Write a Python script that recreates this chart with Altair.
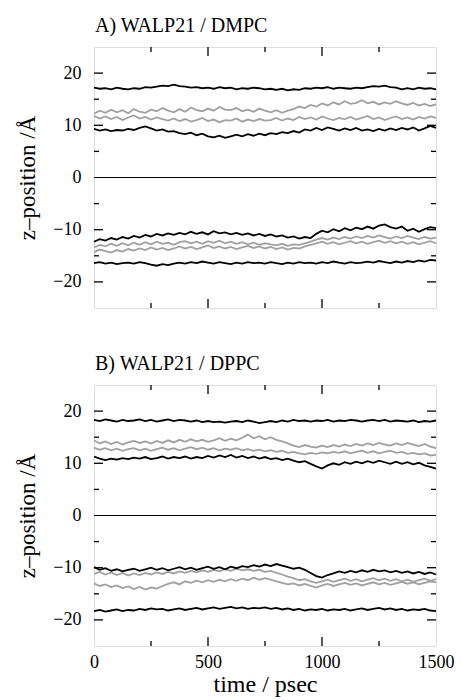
import altair as alt
import numpy as np
import pandas as pd

FONT = "'Liberation Serif', 'DejaVu Serif', serif"

# ---------------- Panel A: WALP21 / DMPC ----------------
A_top_black = [17.2, 17.0, 17.1, 16.9, 17.2, 17.0, 16.9, 17.1, 17.0, 17.3, 17.2, 17.4, 17.6, 17.5, 17.8, 17.5,
               17.4, 17.2, 17.3, 17.1, 17.2, 17.0, 17.3, 17.1, 17.2, 16.9, 17.1, 17.0, 17.2, 17.1, 16.9, 17.0,
               16.8, 17.0, 16.7, 16.9, 16.8, 17.1, 17.0, 17.2, 17.1, 17.3, 17.0, 17.2, 17.1, 17.0, 17.2, 17.1,
               17.3, 17.5, 17.4, 17.6, 17.3, 17.2, 16.9, 17.1, 16.9, 17.2, 17.0, 17.1, 16.9]
A_gray_hi = [12.2, 12.8, 12.4, 13.0, 12.5, 12.9, 12.3, 13.1, 12.6, 12.4, 13.0, 12.7, 13.3, 12.8, 12.5, 13.1,
             12.6, 13.4, 12.9, 12.7, 13.2, 12.8, 13.5, 13.0, 12.9, 13.3, 12.7, 13.0, 12.6, 13.2, 12.8, 12.5,
             12.9, 12.4, 12.8, 13.1, 13.6, 13.3, 13.9, 13.6, 14.2, 13.8, 14.4, 14.0, 14.6, 14.1, 14.3, 14.8,
             14.2, 14.5, 14.0, 14.4, 14.1, 14.6, 14.2, 13.9, 14.3, 13.8, 14.1, 13.7, 14.0]
A_gray_lo = [11.8, 11.3, 11.7, 11.2, 11.6, 11.0, 11.5, 11.9, 11.3, 11.6, 11.1, 11.5, 11.2, 10.9, 11.3, 10.8,
             11.2, 10.7, 11.0, 11.4, 10.8, 11.1, 10.6, 11.0, 10.9, 11.3, 10.7, 11.1, 10.8, 11.2, 10.9, 11.0,
             11.4, 10.9, 11.3, 11.0, 11.6, 11.2, 11.5, 11.1, 11.7, 11.3, 11.0, 11.4, 11.2, 11.6, 11.1, 11.4,
             11.8, 11.2, 11.5, 11.0, 11.4, 11.7, 11.2, 11.5, 11.1, 11.6, 11.3, 11.7, 11.4]
A_black_lo = [9.3, 9.0, 9.2, 8.9, 9.1, 9.0, 9.3, 9.1, 9.5, 9.8, 9.4, 9.0, 9.2, 8.8, 8.9, 8.5,
              8.3, 8.6, 8.1, 8.4, 7.9, 7.7, 8.0, 7.6, 7.9, 8.2, 7.9, 8.3, 8.0, 8.4, 8.1, 8.5,
              8.3, 8.7, 8.5, 8.9, 8.6, 9.2, 9.0, 9.5, 9.1, 9.6, 9.3, 9.0, 9.4, 9.1, 9.5, 9.0,
              9.2, 8.9, 9.3, 9.0, 9.4, 9.1, 9.5, 9.2, 9.6, 9.0, 9.4, 9.9, 9.5]
A_black_b_hi = [-12.3, -11.8, -12.1, -11.6, -11.9, -11.4, -11.7, -11.2, -11.5, -11.0, -11.3, -10.8, -11.1, -10.7,
                -11.0, -10.6, -10.9, -10.4, -10.8, -10.5, -10.9, -10.3, -10.7, -10.5, -10.9, -10.6, -11.0, -10.7,
                -11.1, -10.8, -11.2, -10.9, -11.3, -11.1, -11.5, -11.3, -11.7, -11.4, -11.6, -10.8, -10.2, -10.5,
                -9.9, -10.3, -9.7, -10.1, -9.6, -9.9, -9.4, -9.8, -9.2, -9.0, -9.5, -9.8, -9.4, -10.2, -9.8,
                -10.4, -9.9, -9.5, -9.7]
A_gray_b1 = [-13.4, -12.9, -13.2, -12.7, -13.1, -12.6, -13.0, -12.5, -12.9, -12.4, -12.8, -12.3, -12.7, -12.5,
             -12.9, -12.4, -12.2, -12.6, -12.3, -12.7, -12.2, -12.5, -12.1, -12.6, -12.3, -12.7, -12.4, -12.8,
             -12.5, -12.9, -12.6, -12.8, -13.0, -12.7, -13.1, -12.8, -12.9, -12.6, -12.3, -11.9, -11.6, -11.9,
             -11.5, -11.8, -11.4, -11.7, -11.3, -11.6, -11.2, -11.5, -11.1, -11.4, -11.7, -11.3, -11.6, -11.2,
             -11.5, -11.8, -11.4, -11.7, -11.5]
A_gray_b2 = [-14.3, -13.8, -14.1, -14.4, -13.9, -14.2, -13.7, -14.0, -13.6, -13.9, -13.4, -13.8, -13.5, -13.9,
             -13.6, -13.2, -13.6, -13.3, -13.7, -13.4, -13.0, -13.5, -13.2, -13.6, -13.3, -13.7, -13.4, -13.1,
             -13.5, -13.2, -13.6, -13.3, -13.7, -13.4, -13.8, -13.5, -13.6, -13.2, -12.9, -12.6, -12.3, -12.7,
             -12.4, -12.8, -12.5, -12.2, -12.6, -12.3, -12.7, -12.4, -12.1, -12.5, -12.2, -12.6, -12.3, -12.7,
             -12.4, -12.8, -12.5, -12.2, -12.6]
A_black_b_lo = [-16.4, -16.2, -16.5, -16.3, -16.6, -16.4, -16.3, -16.5, -16.2, -16.4, -16.7, -16.9, -16.6, -16.8,
                -16.5, -16.3, -16.5, -16.2, -16.4, -16.1, -16.3, -16.5, -16.2, -16.4, -16.6, -16.3, -16.5, -16.2,
                -16.4, -16.3, -16.5, -16.2, -16.4, -16.6, -16.3, -16.5, -16.2, -16.4, -16.3, -16.5, -16.2, -16.4,
                -16.1, -16.3, -16.5, -16.2, -16.4, -16.3, -16.1, -16.3, -16.0, -16.2, -16.4, -16.1, -16.3, -16.0,
                -16.2, -15.9, -16.1, -15.8, -15.9]

# ---------------- Panel B: WALP21 / DPPC ----------------
B_top_black = [18.3, 18.1, 18.4, 18.2, 18.0, 18.3, 18.1, 18.2, 18.4, 18.1, 18.3, 18.0, 18.2, 18.4, 18.1, 18.3,
               18.2, 18.0, 18.2, 17.9, 18.1, 17.9, 18.0, 17.8, 18.0, 18.1, 17.9, 18.2, 18.0, 17.7, 17.9, 18.1,
               17.9, 18.2, 18.0, 18.3, 18.1, 18.2, 18.0, 18.2, 18.1, 18.3, 18.0, 18.2, 18.1, 18.3, 18.2, 18.0,
               18.2, 18.3, 18.1, 18.3, 18.0, 18.2, 18.1, 18.0, 18.2, 17.9, 18.1, 18.0, 18.2]
B_gray_hi = [14.4, 13.8, 14.2, 13.7, 14.1, 13.6, 14.0, 14.3, 13.9, 14.2, 13.8, 14.3, 13.9, 14.4, 14.0, 14.5,
             14.1, 14.6, 14.2, 14.5, 14.1, 14.4, 14.8, 14.3, 14.7, 14.4, 14.9, 15.5, 14.8, 15.2, 14.6, 15.0,
             14.5, 14.2, 13.8, 13.4, 13.1, 13.5, 13.2, 13.0, 13.4, 13.1, 13.5, 13.2, 13.6, 13.3, 13.7, 13.4,
             13.8, 13.5, 13.9, 13.6, 13.4, 13.8, 13.5, 13.9, 13.6, 13.3, 13.7, 13.2, 12.9]
B_gray_lo = [13.0, 12.6, 12.9, 12.5, 12.8, 12.4, 12.7, 12.9, 12.5, 12.8, 12.4, 12.7, 13.0, 12.6, 12.9, 12.5,
             12.8, 13.1, 12.7, 13.0, 12.6, 12.9, 12.5, 12.8, 12.6, 12.9, 12.5, 12.7, 12.4, 12.6, 12.3, 12.5,
             12.2, 12.4, 12.0, 12.2, 11.9, 11.7, 12.0, 11.8, 12.1, 11.9, 12.2, 12.0, 12.3, 11.9, 12.2, 12.4,
             12.0, 12.3, 11.9, 12.2, 12.4, 12.0, 12.2, 11.8, 12.0, 11.7, 11.9, 11.5, 11.6]
B_black_lo = [11.3, 10.9, 10.6, 10.9, 10.7, 11.0, 10.8, 11.1, 10.9, 11.2, 10.8, 11.0, 11.3, 10.9, 11.2, 11.0,
              11.3, 10.9, 11.2, 11.0, 11.4, 11.1, 11.5, 11.2, 11.6, 11.1, 11.4, 11.0, 11.3, 10.9, 11.2, 10.8,
              11.0, 10.6, 10.9, 10.5, 10.2, 10.4, 9.9, 9.4, 9.0, 9.6, 10.0, 9.7, 10.2, 9.9, 10.3, 10.0,
              10.4, 10.1, 10.5, 10.2, 9.9, 10.3, 9.9, 10.2, 9.8, 10.1, 9.6, 9.3, 9.0]
B_black_b_hi = [-9.9, -10.4, -10.1, -10.6, -10.3, -10.7, -10.4, -10.2, -10.6, -10.3, -10.0, -10.4, -10.1, -10.5,
                -10.2, -9.9, -10.3, -10.0, -10.4, -10.1, -9.8, -10.2, -9.9, -10.3, -9.8, -10.1, -9.7, -9.9,
                -9.5, -9.8, -9.4, -9.7, -9.3, -9.6, -9.9, -10.2, -10.0, -10.4, -11.0, -11.6, -11.9, -11.4,
                -11.1, -10.7, -11.0, -10.6, -10.9, -10.5, -10.8, -10.4, -10.7, -10.5, -10.9, -10.6, -11.0, -10.7,
                -11.1, -10.8, -11.2, -10.9, -11.3]
B_gray_b1 = [-11.2, -10.8, -11.3, -10.9, -11.4, -11.0, -11.5, -11.1, -11.4, -11.0, -11.3, -10.9, -11.2, -10.8,
             -11.1, -10.7, -11.0, -10.6, -10.9, -10.5, -10.8, -10.4, -10.7, -10.3, -10.6, -10.2, -10.5, -10.3,
             -10.6, -10.4, -10.8, -10.6, -11.0, -11.3, -11.7, -12.0, -12.4, -12.2, -12.6, -12.9, -12.6, -12.3,
             -12.7, -12.4, -12.1, -12.5, -12.2, -12.6, -12.3, -12.0, -12.4, -12.1, -12.5, -12.2, -12.6, -12.3,
             -12.7, -12.4, -12.1, -12.5, -12.2]
B_gray_b2 = [-13.0, -13.5, -13.2, -13.7, -13.4, -13.9, -13.6, -14.1, -13.7, -14.2, -13.8, -14.0, -13.5, -13.1,
             -12.8, -13.2, -12.6, -12.9, -12.5, -12.8, -12.4, -12.7, -12.3, -12.6, -12.2, -12.5, -12.1, -12.4,
             -11.9, -12.3, -12.0, -12.3, -12.6, -12.9, -13.2, -13.0, -13.4, -13.1, -13.5, -13.8, -13.4, -13.1,
             -13.5, -13.2, -12.9, -13.3, -13.0, -13.4, -13.1, -12.8, -13.2, -12.9, -13.3, -13.0, -12.7, -13.1,
             -12.8, -13.2, -12.9, -12.6, -12.8]
B_black_b_lo = [-18.3, -18.1, -18.4, -18.2, -18.0, -18.3, -18.1, -18.2, -17.9, -18.1, -17.8, -18.0, -17.9, -18.2,
                -18.0, -17.8, -18.1, -17.9, -17.7, -18.0, -17.8, -17.6, -17.9, -17.7, -17.5, -17.8, -17.6, -17.9,
                -17.7, -17.8, -17.6, -17.9, -17.7, -18.0, -17.8, -18.1, -17.9, -18.2, -18.0, -18.1, -17.9, -18.2,
                -18.0, -18.1, -17.9, -18.2, -18.0, -17.8, -18.1, -17.9, -17.7, -18.0, -17.8, -18.1, -17.9, -18.2,
                -18.0, -18.1, -17.9, -18.2, -18.3]

T_MAX = 1500
X_LABELS = [0, 500, 1000, 1500]
Y_LABELS = [-20, -10, 0, 10, 20]
Y_MAJOR = [-20, -10, 10, 20]
Y_MINOR = [-15, -5, 5, 15]
X_MAJOR = [500, 1000]
X_MINOR = [250, 750, 1250]

W, H = 342, 261


def series_df(series):
    rows = []
    for name, kind, vals in series:
        ts = np.linspace(0, T_MAX, len(vals))
        for t, v in zip(ts, vals):
            rows.append({"t": float(t), "z": v, "s": name, "kind": kind})
    return pd.DataFrame(rows)


def panel(title, series, show_x):
    df = series_df(series)
    xscale = alt.Scale(domain=[0, T_MAX], nice=False, zero=False)
    yscale = alt.Scale(domain=[-25, 25], nice=False)
    if show_x:
        xaxis = alt.Axis(values=X_LABELS, format="d", ticks=False, domain=False, grid=False,
                         labelFont=FONT, labelFontSize=18, labelColor="black", labelPadding=7,
                         labelFlush=False, labelOverlap=False,
                         title="time / psec", titleFont=FONT, titleFontSize=24,
                         titleFontWeight="normal", titleColor="black", titlePadding=1)
    else:
        xaxis = None
    yaxis = alt.Axis(values=Y_LABELS, format="d", ticks=False, domain=False, grid=False,
                     labelFont=FONT, labelFontSize=18, labelColor="black", labelPadding=13,
                     title="z–position /Å", titleFont=FONT, titleFontSize=23,
                     titleFontWeight="normal", titleColor="black", titlePadding=13)

    base = alt.Chart(df)
    gray = base.transform_filter(alt.datum.kind == "gray").mark_line(
        color="#a0a0a0", strokeWidth=1.8).encode(
        x=alt.X("t:Q", scale=xscale, axis=xaxis),
        y=alt.Y("z:Q", scale=yscale, axis=yaxis),
        detail="s:N")
    black = base.transform_filter(alt.datum.kind == "black").mark_line(
        color="black", strokeWidth=1.8).encode(
        x=alt.X("t:Q", scale=xscale),
        y=alt.Y("z:Q", scale=yscale),
        detail="s:N")
    zero = alt.Chart(pd.DataFrame({"v": [0]})).mark_rule(color="black", strokeWidth=1).encode(
        y=alt.Y("v:Q", scale=yscale))

    layers = [zero, gray, black]

    def yticks(vals, length):
        d = alt.Chart(pd.DataFrame({"v": vals}))
        left = d.mark_rule(color="black", strokeWidth=1.3).encode(
            y=alt.Y("v:Q", scale=yscale), x=alt.value(0), x2=alt.value(length))
        right = d.mark_rule(color="black", strokeWidth=1.3).encode(
            y=alt.Y("v:Q", scale=yscale), x=alt.value(W - length), x2=alt.value(W))
        return [left, right]

    def xticks(vals, length):
        d = alt.Chart(pd.DataFrame({"v": vals}))
        top = d.mark_rule(color="black", strokeWidth=1.3).encode(
            x=alt.X("v:Q", scale=xscale), y=alt.value(0), y2=alt.value(length))
        bot = d.mark_rule(color="black", strokeWidth=1.3).encode(
            x=alt.X("v:Q", scale=xscale), y=alt.value(H - length), y2=alt.value(H))
        return [top, bot]

    layers += yticks(Y_MAJOR, 9) + yticks(Y_MINOR, 5) + xticks(X_MAJOR, 9) + xticks(X_MINOR, 5)

    return alt.layer(*layers).properties(
        width=W, height=H,
        title=alt.TitleParams(title, anchor="start", frame="group", font=FONT, fontSize=20,
                              fontWeight="normal", color="black", offset=10, dx=1))


series_A = [
    ("a1", "gray", A_gray_hi), ("a2", "gray", A_gray_lo), ("a3", "gray", A_gray_b1), ("a4", "gray", A_gray_b2),
    ("a5", "black", A_top_black), ("a6", "black", A_black_lo), ("a7", "black", A_black_b_hi),
    ("a8", "black", A_black_b_lo),
]
series_B = [
    ("b1", "gray", B_gray_hi), ("b2", "gray", B_gray_lo), ("b3", "gray", B_gray_b1), ("b4", "gray", B_gray_b2),
    ("b5", "black", B_top_black), ("b6", "black", B_black_lo), ("b7", "black", B_black_b_hi),
    ("b8", "black", B_black_b_lo),
]

chart = alt.vconcat(
    panel("A) WALP21 / DMPC", series_A, False),
    panel("B) WALP21 / DPPC", series_B, True),
    spacing=43,
).configure_view(stroke="black", strokeWidth=1.5).configure(
    font=FONT).properties(
    padding={"left": 16, "top": 15, "right": 0, "bottom": 0}, background="white")

chart.save("out.html", embed_options={"renderer": "svg", "actions": False})
